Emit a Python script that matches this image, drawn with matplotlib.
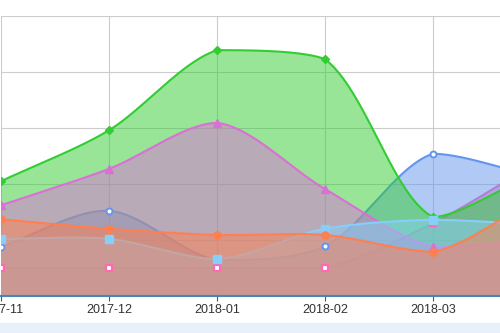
import numpy as np
import matplotlib
matplotlib.use("Agg")
import matplotlib.pyplot as plt
from matplotlib.patches import Rectangle

plt.rcParams['font.family'] = ['Liberation Sans', 'DejaVu Sans']

months = ['2017-11', '2017-12', '2018-01', '2018-02', '2018-03', '2018-04']

coral_vals = [137, 120, 109, 109, 79, 180]
skyblue_vals = [102, 102, 66, 120, 136, 127]
orchid_vals = [162, 227, 309, 191, 88, 100]
green_vals = [205, 296, 439, 423, 141, 225]
blue_vals = [88, 152, 64, 89, 254, 211]
pink_vals = [50, 50, 50, 50, 130, 243]

# echarts 2 style palette / symbols, drawn last-series-first
series = [
    (coral_vals, '#ff7f50', dict(marker='o', ms=5.2, mfc='#ff7f50', mec='#ff7f50')),
    (skyblue_vals, '#87cefa', dict(marker='s', ms=5.5, mfc='#87cefa', mec='#87cefa')),
    (orchid_vals, '#da70d6', dict(marker='^', ms=6, mfc='#da70d6', mec='#da70d6')),
    (green_vals, '#32cd32', dict(marker='D', ms=4.2, mfc='#32cd32', mec='#32cd32')),
    (blue_vals, '#6495ed', dict(marker='o', ms=4.3, mfc='white', mec='#6495ed', mew=1.4)),
    (pink_vals, '#ff69b4', dict(marker='s', ms=4.2, mfc='white', mec='#ff69b4', mew=1.6)),
]

XPX, YPX = 108.0, 0.56  # pixel scale used for the smoothing


def smooth_curve(vals, smooth=0.3, steps=40):
    pts = np.column_stack([np.arange(len(vals)) * XPX, np.asarray(vals, float) * YPX])
    lo, hi = pts.min(axis=0), pts.max(axis=0)
    n = len(pts)
    cp_in, cp_out = [], []
    for i in range(n):
        prev = pts[max(i - 1, 0)]
        nxt = pts[min(i + 1, n - 1)]
        v = (nxt - prev) * smooth
        d0 = np.hypot(*(pts[i] - prev))
        d1 = np.hypot(*(pts[i] - nxt))
        s = d0 + d1
        if s:
            d0, d1 = d0 / s, d1 / s
        cp_in.append(np.clip(pts[i] - v * d0, lo, hi))
        cp_out.append(np.clip(pts[i] + v * d1, lo, hi))
    t = np.linspace(0, 1, steps)[:, None]
    out = []
    for i in range(n - 1):
        p0, p1, p2, p3 = pts[i], cp_out[i], cp_in[i + 1], pts[i + 1]
        seg = ((1 - t) ** 3) * p0 + 3 * ((1 - t) ** 2) * t * p1 + 3 * (1 - t) * t ** 2 * p2 + t ** 3 * p3
        out.append(seg if i == 0 else seg[1:])
    out = np.vstack(out)
    return out[:, 0] / XPX, out[:, 1] / YPX


fig = plt.figure(figsize=(5, 3.33), dpi=100)
ax = fig.add_axes([1 / 500, 37 / 333, 540 / 500, 280 / 333])

x = np.arange(len(months))
for z, (vals, color, mk) in enumerate(reversed(series)):
    cx, cy = smooth_curve(vals)
    ax.fill_between(cx, cy, 0, color=color, alpha=0.5, lw=0, zorder=2 + z)
    ax.plot(cx, cy, color=color, lw=1.5, zorder=2 + z, solid_capstyle='round')
for z, (vals, color, mk) in enumerate(reversed(series)):
    ax.plot(x, vals, ls='none', zorder=20 + z, **mk)

ax.set_xlim(0, 5)
ax.set_ylim(0, 500)
ax.set_xticks(x)
ax.set_xticklabels(months)
ax.set_yticks(np.arange(0, 501, 100))
ax.set_yticklabels([])
ax.grid(True, color='#cccccc', lw=0.8, zorder=0)
ax.set_axisbelow(True)
for side in ['top', 'left', 'right']:
    ax.spines[side].set_visible(False)
ax.spines['bottom'].set_color('#4488bb')
ax.spines['bottom'].set_linewidth(1.5)
ax.spines['bottom'].set_zorder(30)
ax.tick_params(axis='y', length=0)
ax.tick_params(axis='x', length=3.6, width=0.8, color='#555555', pad=2,
               labelsize=9, labelcolor='#333333')

# strip under the chart
fig.patches.append(Rectangle((0, 0), 1, 10 / 333, transform=fig.transFigure,
                             color='#e8f1fa', zorder=0))

fig.savefig('out.png', dpi=100)
